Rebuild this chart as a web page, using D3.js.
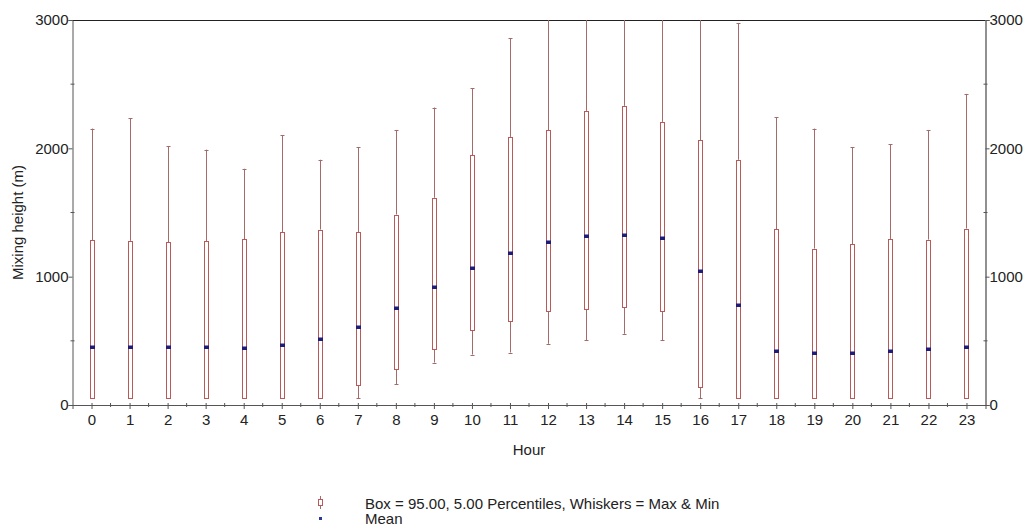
<!DOCTYPE html>
<html>
<head>
<meta charset="utf-8">
<script src="https://cdn.jsdelivr.net/npm/d3@7"></script>
<style>
body { margin: 0; background: #fff; }
svg { font-family: "Liberation Sans", Arial, sans-serif; }
</style>
</head>
<body>
<svg id="chart" width="1028" height="529"></svg>
<script>
// hourly mixing height statistics (m)
var hours = d3.range(0, 24);
var maxVals = [2154, 2234, 2018, 1990, 1841, 2101, 1911, 2010, 2143, 2318, 2469, 2857,
    3200, 3200, 3200, 3200, 3200, 2977, 2242, 2154, 2010, 2031, 2143, 2424];
var p95Vals = [1284, 1279, 1268, 1276, 1292, 1346, 1367, 1346, 1484, 1615, 1948, 2089,
    2141, 2292, 2331, 2206, 2063, 1911, 1370, 1219, 1253, 1294, 1289, 1375];
var meanVals = [453, 453, 453, 453, 443, 464, 513, 609, 758, 919, 1068, 1185,
    1273, 1313, 1326, 1302, 1042, 776, 419, 409, 409, 419, 437, 453];
var p5Vals = [52, 52, 52, 52, 52, 52, 52, 156, 281, 435, 581, 651,
    732, 747, 766, 729, 138, 52, 52, 52, 52, 52, 52, 52];
var minVals = [52, 52, 52, 52, 52, 52, 52, 52, 164, 331, 393, 409,
    477, 503, 555, 503, 52, 52, 52, 52, 52, 52, 52, 52];
var yTicks = [0, 1000, 2000, 3000];
var yMinor = [500, 1500, 2500];

var svg = d3.select("#chart");
var plotLeft = 72.5, plotRight = 985.5, plotTop = 20, plotBottom = 405;
var fs = 15;

var x = d3.scaleLinear().domain([-0.5, 23.5]).range([plotLeft, plotRight]);
var y = d3.scaleLinear().domain([0, 3000]).range([plotBottom, plotTop]);

var axisColor = "#555";
var boxColor = "#b85a58";
var whiskerColor = "#a56a6a";
var meanColor = "#1c1c7a";

svg.append("clipPath").attr("id", "clip")
    .append("rect").attr("x", plotLeft).attr("y", plotTop)
    .attr("width", plotRight - plotLeft).attr("height", plotBottom - plotTop);

// frame top line
svg.append("line")
    .attr("x1", plotLeft).attr("x2", plotRight).attr("y1", plotTop + 0.5).attr("y2", plotTop + 0.5)
    .attr("stroke", "#222").attr("stroke-width", 1);

// bottom axis
var xAxis = d3.axisBottom(x).tickValues(hours).tickSize(4).tickFormat(d3.format("d"));
var gx = svg.append("g").attr("transform", "translate(0," + plotBottom + ")").call(xAxis);
gx.select(".domain").attr("stroke", axisColor);
gx.selectAll(".tick line").attr("stroke", axisColor).attr("y1", -2);
gx.selectAll(".tick text").attr("font-size", fs).attr("fill", "#222").attr("y", 9);
svg.append("g").selectAll("line")
    .data(hours.slice(0, 23).map(function (h) { return h + 0.5; }))
    .enter().append("line")
    .attr("x1", function (d) { return x(d); }).attr("x2", function (d) { return x(d); })
    .attr("y1", plotBottom - 2).attr("y2", plotBottom + 2)
    .attr("stroke", axisColor);

// left axis
var yAxisL = d3.axisLeft(y).tickValues(yTicks).tickSize(4).tickFormat(d3.format("d"));
var gyl = svg.append("g").attr("transform", "translate(" + plotLeft + ",0)").call(yAxisL);
gyl.select(".domain").attr("stroke", axisColor);
gyl.selectAll(".tick line").attr("stroke", axisColor);
gyl.selectAll(".tick text").attr("font-size", fs).attr("fill", "#222").attr("x", -4);

// right axis
var yAxisR = d3.axisRight(y).tickValues(yTicks).tickSize(4).tickFormat(d3.format("d"));
var gyr = svg.append("g").attr("transform", "translate(" + plotRight + ",0)").call(yAxisR);
gyr.select(".domain").attr("stroke", "#222");
gyr.selectAll(".tick line").attr("stroke", axisColor);
gyr.selectAll(".tick text").attr("font-size", fs).attr("fill", "#222").attr("x", 4);

[plotLeft, plotRight].forEach(function (ax) {
    svg.append("g").selectAll("line").data(yMinor).enter().append("line")
        .attr("x1", ax - 2).attr("x2", ax + 2)
        .attr("y1", function (d) { return y(d); }).attr("y2", function (d) { return y(d); })
        .attr("stroke", axisColor);
});

// boxes
var plot = svg.append("g").attr("clip-path", "url(#clip)");
var items = hours.map(function (h, i) {
    return { h: h, max: maxVals[i], p95: p95Vals[i], mean: meanVals[i], p5: p5Vals[i], min: minVals[i] };
});
function cx(d) { return Math.round(x(d.h)); }

var g = plot.selectAll("g.box").data(items).enter().append("g").attr("class", "box");

g.append("line")
    .attr("x1", function (d) { return cx(d) + 0.5; })
    .attr("x2", function (d) { return cx(d) + 0.5; })
    .attr("y1", function (d) { return y(d.max); })
    .attr("y2", function (d) { return y(d.p95); })
    .attr("stroke", whiskerColor);
g.append("line")
    .attr("x1", function (d) { return cx(d) + 0.5; })
    .attr("x2", function (d) { return cx(d) + 0.5; })
    .attr("y1", function (d) { return y(d.p5); })
    .attr("y2", function (d) { return y(d.min); })
    .attr("stroke", whiskerColor);
// caps
g.append("line")
    .attr("x1", function (d) { return cx(d) - 1.5; })
    .attr("x2", function (d) { return cx(d) + 2.5; })
    .attr("y1", function (d) { return Math.round(y(d.max)) + 0.5; })
    .attr("y2", function (d) { return Math.round(y(d.max)) + 0.5; })
    .attr("stroke", whiskerColor);
g.append("line")
    .attr("x1", function (d) { return cx(d) - 1.5; })
    .attr("x2", function (d) { return cx(d) + 2.5; })
    .attr("y1", function (d) { return Math.round(y(d.min)) + 0.5; })
    .attr("y2", function (d) { return Math.round(y(d.min)) + 0.5; })
    .attr("stroke", whiskerColor);

g.append("rect")
    .attr("x", function (d) { return cx(d) - 1.5; })
    .attr("width", 4)
    .attr("y", function (d) { return Math.round(y(d.p95)) + 0.5; })
    .attr("height", function (d) { return Math.round(y(d.p5)) - Math.round(y(d.p95)); })
    .attr("fill", "#fff").attr("stroke", boxColor);

g.append("rect")
    .attr("x", function (d) { return cx(d) - 2; })
    .attr("width", 5)
    .attr("y", function (d) { return Math.round(y(d.mean)) - 1.5; })
    .attr("height", 3.5)
    .attr("fill", meanColor);

// axis titles
svg.append("text")
    .attr("x", (plotLeft + plotRight) / 2).attr("y", 455)
    .attr("text-anchor", "middle").attr("font-size", fs).attr("fill", "#222")
    .text("Hour");
svg.append("text")
    .attr("transform", "translate(23," + ((plotTop + plotBottom) / 2 + 10) + ") rotate(-90)")
    .attr("text-anchor", "middle").attr("font-size", fs).attr("fill", "#222")
    .text("Mixing height (m)");

// legend
var lg = svg.append("g");
lg.append("line").attr("x1", 320.5).attr("x2", 320.5).attr("y1", 496).attr("y2", 509).attr("stroke", whiskerColor);
lg.append("rect").attr("x", 318.5).attr("y", 499.5).attr("width", 4).attr("height", 6).attr("fill", "#fff").attr("stroke", boxColor);
lg.append("rect").attr("x", 319).attr("y", 517).attr("width", 3).attr("height", 3).attr("fill", "#2a3a9a");
lg.append("text").attr("x", 365).attr("y", 509).attr("font-size", fs).attr("fill", "#222")
    .text("Box = 95.00, 5.00 Percentiles, Whiskers = Max & Min");
lg.append("text").attr("x", 365).attr("y", 524).attr("font-size", fs).attr("fill", "#222")
    .text("Mean");
</script>
</body>
</html>
